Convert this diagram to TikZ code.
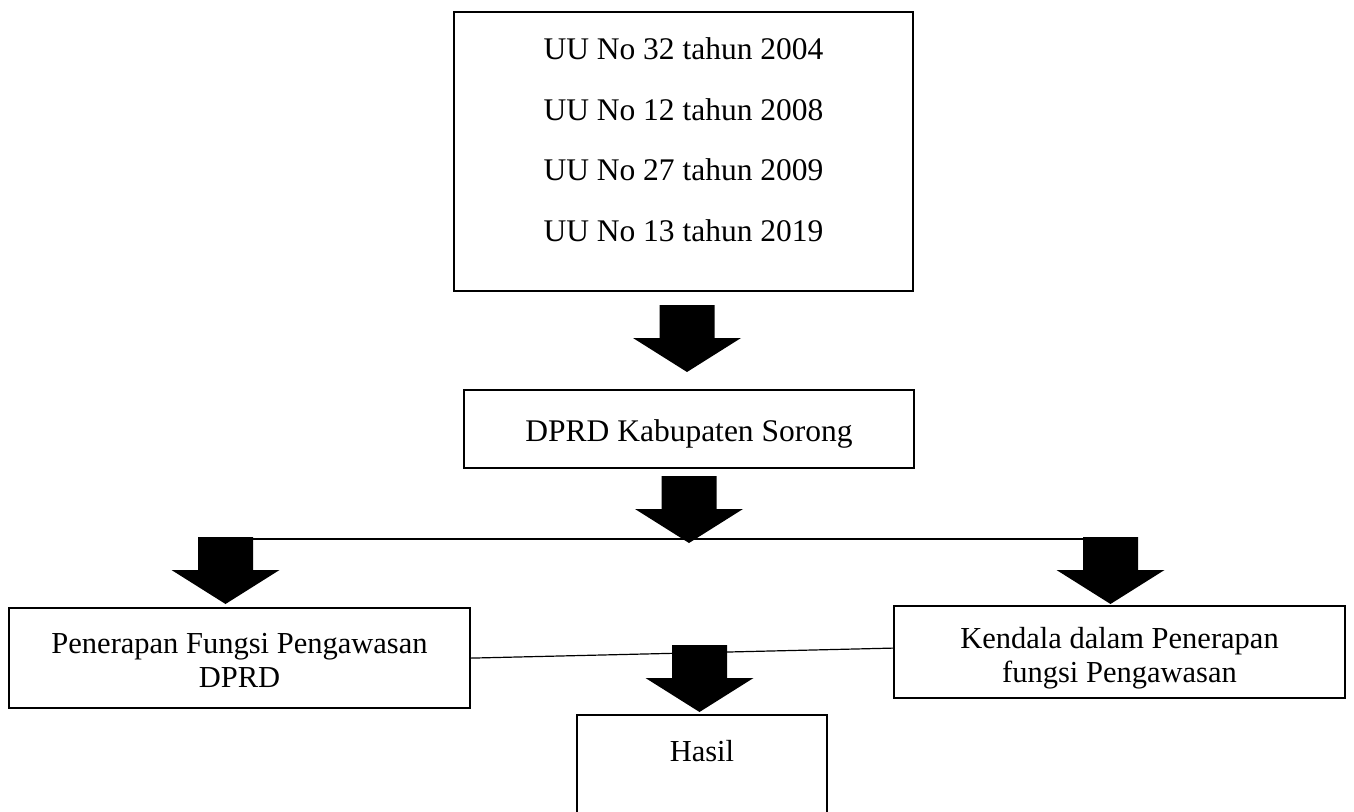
\documentclass[tikz,border=0pt]{standalone}
\usepackage{fontspec}
\setmainfont{Liberation Serif}
\usepackage{tikz}
\usetikzlibrary{positioning}

\tikzset{
  box/.style={draw, line width=2.2pt, inner sep=0pt, align=center, anchor=north},
  bigtext/.style={font=\fontsize{31.5}{60.5}\selectfont},
  smalltext/.style={font=\fontsize{30.5}{34}\selectfont},
  pics/bigarrow/.style={code={
    \fill (-27.5,0) -- (27.5,0) -- (27.5,33) -- (54,33) -- (0,67) -- (-54,33) -- (-27.5,33) -- cycle;
    \coordinate (-shaft) at (27.5,2);
  }}
}

\begin{document}
\begin{tikzpicture}[x=1pt,y=-1pt]

\useasboundingbox (0,0) rectangle (1354,811);

\node[box,bigtext,minimum width=459pt,text height=229pt,text depth=50pt] (uu) at (683.5,11)
  {UU No 32 tahun 2004\\UU No 12 tahun 2008\\UU No 27 tahun 2009\\UU No 13 tahun 2019};
\node[box,bigtext,minimum width=450pt,text height=51pt,text depth=27pt] (dprd) at (689,389)
  {DPRD Kabupaten Sorong};
\node[box,smalltext,minimum width=461pt,text height=79pt,text depth=21pt] (penerapan) at (239.5,607)
  {Penerapan Fungsi Pengawasan\\DPRD};
\node[box,smalltext,minimum width=451pt,text height=76pt,text depth=16pt] (kendala) at (1119.5,605)
  {Kendala dalam Penerapan\\fungsi Pengawasan};
\node[box,smalltext,minimum width=250pt,text height=46pt,text depth=80pt] (hasil) at (702,714)
  {Hasil};

\pic (p1) at (687,305) {bigarrow};
\pic (p2) at (689,476) {bigarrow};
\pic (pl) at (225.5,537) {bigarrow};
\pic (pr) at (1110.5,537) {bigarrow};
\pic (pb) at (699.5,645) {bigarrow};

\draw[line width=1.2pt] (pl-shaft) -- (pr-shaft);
\draw[line width=1.2pt] (penerapan.east) -- ([yshift=4pt]kendala.west);

\end{tikzpicture}
\end{document}
